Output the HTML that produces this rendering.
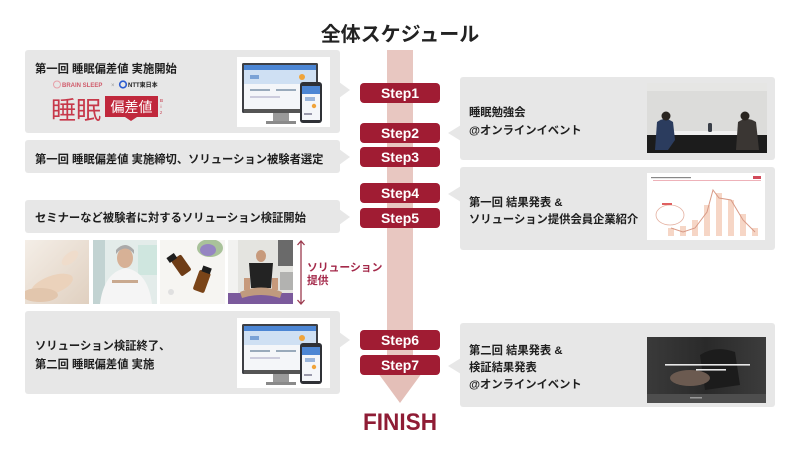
<!DOCTYPE html>
<html><head><meta charset="utf-8"><style>
html,body{margin:0;padding:0;background:#fff;}
svg{display:block;}
text{font-family:"Liberation Sans","Noto Sans CJK JP",sans-serif;}
.t{font-size:11.3px;font-weight:bold;fill:#1e1e1e;}
.st{font-size:14px;font-weight:bold;fill:#fff;}
</style></head><body>
<svg width="800" height="451" viewBox="0 0 800 451" xmlns="http://www.w3.org/2000/svg">
<defs>
<clipPath id="c1"><rect x="25" y="240" width="64" height="64"/></clipPath>
<clipPath id="c2"><rect x="93" y="240" width="64" height="64"/></clipPath>
<clipPath id="c3"><rect x="160" y="240" width="65" height="64"/></clipPath>
<clipPath id="c4"><rect x="228" y="240" width="65" height="64"/></clipPath>
<clipPath id="c5"><rect x="647" y="83" width="120" height="70"/></clipPath>
<clipPath id="c6"><rect x="647" y="337" width="119" height="66"/></clipPath>
<linearGradient id="g1" x1="0" y1="0" x2="1" y2="1"><stop offset="0" stop-color="#f4eee7"/><stop offset="1" stop-color="#e0d0c0"/></linearGradient>
<linearGradient id="g6" x1="0" y1="0" x2="1" y2="0"><stop offset="0" stop-color="#3a3a3a"/><stop offset="0.5" stop-color="#2a2a2a"/><stop offset="1" stop-color="#3c3c3c"/></linearGradient>
</defs>
<rect width="800" height="451" fill="#fff"/>

<!-- title -->
<text x="400" y="41" text-anchor="middle" font-size="20" font-weight="bold" fill="#222">全体スケジュール</text>

<!-- central arrow -->
<rect x="387" y="50" width="26" height="325" fill="#e8c7c1"/>
<polygon points="378,373 422,373 400,403" fill="#e4bfb8"/>

<!-- gray boxes -->
<g fill="#e7e7e7">
<rect x="25" y="50" width="315" height="83" rx="3"/>
<polygon points="339,82 350,90 339,98"/>
<rect x="25" y="140" width="315" height="33" rx="3"/>
<polygon points="339,149 350,157 339,165"/>
<rect x="25" y="200" width="315" height="33" rx="3"/>
<polygon points="339,209 350,217 339,225"/>
<rect x="25" y="311" width="315" height="83" rx="3"/>
<polygon points="339,332 350,340 339,348"/>
<rect x="460" y="77" width="315" height="83" rx="3"/>
<polygon points="461,125 448,133 461,141"/>
<rect x="460" y="167" width="315" height="83" rx="3"/>
<polygon points="461,186 448,194 461,202"/>
<rect x="460" y="323" width="315" height="84" rx="3"/>
<polygon points="461,358 448,366 461,374"/>
</g>

<!-- steps -->
<g fill="#a01c33">
<rect x="360" y="83" width="80" height="20" rx="4"/>
<rect x="360" y="123" width="80" height="20" rx="4"/>
<rect x="360" y="147" width="80" height="20" rx="4"/>
<rect x="360" y="183" width="80" height="20" rx="4"/>
<rect x="360" y="208" width="80" height="20" rx="4"/>
<rect x="360" y="330" width="80" height="20" rx="4"/>
<rect x="360" y="355" width="80" height="20" rx="4"/>
</g>
<g text-anchor="middle">
<text class="st" x="400" y="98">Step1</text>
<text class="st" x="400" y="138">Step2</text>
<text class="st" x="400" y="162">Step3</text>
<text class="st" x="400" y="198">Step4</text>
<text class="st" x="400" y="223">Step5</text>
<text class="st" x="400" y="345">Step6</text>
<text class="st" x="400" y="370">Step7</text>
</g>

<text x="400" y="430" text-anchor="middle" font-size="24" font-weight="bold" fill="#8f1c35" textLength="74" lengthAdjust="spacingAndGlyphs">FINISH</text>

<!-- left texts -->
<text class="t" x="35" y="72.5" font-size="11.6">第一回 睡眠偏差値 実施開始</text>
<text class="t" x="35" y="163">第一回 睡眠偏差値 実施締切、ソリューション被験者選定</text>
<text class="t" x="35" y="221.5">セミナーなど被験者に対するソリューション検証開始</text>
<text class="t" x="35" y="349.5">ソリューション検証終了、</text>
<text class="t" x="35" y="368">第二回 睡眠偏差値 実施</text>

<!-- right texts -->
<text class="t" x="469" y="116">睡眠勉強会</text>
<text class="t" x="469" y="134">@オンラインイベント</text>
<text class="t" x="469" y="206">第一回 結果発表 &amp;</text>
<text class="t" x="469" y="223">ソリューション提供会員企業紹介</text>
<text class="t" x="469" y="354">第二回 結果発表 &amp;</text>
<text class="t" x="469" y="371">検証結果発表</text>
<text class="t" x="469" y="388">@オンラインイベント</text>

<!-- logos in box1 -->
<circle cx="57" cy="84.5" r="3.5" fill="none" stroke="#e7a0a8" stroke-width="1"/>
<text x="62" y="87" font-size="6" font-weight="bold" fill="#d05a6a">BRAIN SLEEP</text>
<text x="111" y="87" font-size="6" fill="#999">×</text>
<circle cx="123" cy="84.5" r="3.3" fill="none" stroke="#2a5bd0" stroke-width="1.6"/>
<text x="128" y="87" font-size="6" font-weight="bold" fill="#222">NTT東日本</text>
<text x="51" y="119" font-size="25" fill="#c7384a">睡眠</text>
<rect x="105" y="96" width="53" height="21" fill="#c0283c"/>
<polygon points="125,117 131,121 137,117" fill="#c0283c"/>
<text x="131.5" y="112" text-anchor="middle" font-size="14" fill="#fff">偏差値</text>
<text x="160" y="102" font-size="4.5" fill="#c0283c">B</text>
<text x="160.5" y="108" font-size="4.5" fill="#c0283c">i</text>
<text x="160" y="114" font-size="4.5" fill="#c0283c">z</text>

<!-- screen mockup 1 -->
<g id="mock">
<rect x="237" y="57" width="93" height="70" fill="#fff"/>
<rect x="242" y="63" width="76" height="50" rx="1.5" fill="#3d3f44"/>
<rect x="244" y="65" width="72" height="44" fill="#f4f6f9"/>
<rect x="244" y="65" width="72" height="5" fill="#4c86d4"/>
<rect x="244" y="70" width="72" height="14" fill="#cfe0f3"/>
<rect x="250" y="75" width="9" height="4" fill="#7aa2d6"/>
<circle cx="302" cy="77" r="3" fill="#f0a43a"/>
<rect x="250" y="89" width="20" height="2" fill="#9ab"/>
<rect x="276" y="89" width="20" height="2" fill="#9ab"/>
<rect x="250" y="96" width="30" height="2" fill="#ccd"/>
<rect x="244" y="109" width="72" height="4" fill="#555"/>
<rect x="273" y="113" width="16" height="8" fill="#9a9a9a"/>
<rect x="266" y="121" width="30" height="3" fill="#8a8a8a"/>
<rect x="300" y="82" width="22" height="41" rx="3" fill="#2f3136"/>
<rect x="302" y="86" width="18" height="34" fill="#f4f6f9"/>
<rect x="302" y="86" width="18" height="8" fill="#4c86d4"/>
<rect x="305" y="97" width="10" height="4" fill="#9bb6dc"/>
<circle cx="314" cy="106" r="2.2" fill="#f0a43a"/>
<rect x="304" y="113" width="8" height="2" fill="#99a"/>
</g>
<use href="#mock" transform="translate(0,261)"/>

<!-- photos row -->
<g clip-path="url(#c1)">
<rect x="25" y="240" width="64" height="64" fill="url(#g1)"/>
<ellipse cx="52" cy="285" rx="22" ry="9" fill="#ebd2bb" transform="rotate(-20 52 285)"/>
<ellipse cx="70" cy="258" rx="10" ry="5" fill="#efdccb" transform="rotate(-40 70 258)"/>
<ellipse cx="40" cy="295" rx="18" ry="7" fill="#e2c6ad"/>
</g>
<g clip-path="url(#c2)">
<rect x="93" y="240" width="64" height="64" fill="#e3ecea"/>
<rect x="93" y="240" width="12" height="64" fill="#c2d3d2"/>
<rect x="138" y="245" width="19" height="30" fill="#cfe6df"/>
<path d="M100,304 Q104,272 126,268 Q148,272 152,304 Z" fill="#f5f5f5"/>
<ellipse cx="125" cy="258" rx="8" ry="10" fill="#d7b196"/>
<path d="M116,254 Q125,243 134,254 L134,250 Q125,240 116,250 Z" fill="#aaa"/>
<rect x="112" y="280" width="26" height="3" fill="#c9a98f"/>
</g>
<g clip-path="url(#c3)">
<rect x="160" y="240" width="65" height="64" fill="#f6f5f2"/>
<ellipse cx="210" cy="248" rx="13" ry="9" fill="#a9c29a"/>
<ellipse cx="208" cy="250" rx="8" ry="6" fill="#9585c2"/>
<rect x="175" y="256" width="12" height="19" rx="2" fill="#6e3c16" transform="rotate(-35 181 265)"/>
<rect x="173" y="251" width="9" height="6" fill="#1e1e1e" transform="rotate(-35 181 265)"/>
<rect x="196" y="271" width="12" height="21" rx="2" fill="#7a4418" transform="rotate(20 202 281)"/>
<rect x="198" y="266" width="9" height="6" fill="#1e1e1e" transform="rotate(20 202 281)"/>
<circle cx="171" cy="292" r="3" fill="#e0e0e0"/>
</g>
<g clip-path="url(#c4)">
<rect x="228" y="240" width="65" height="64" fill="#e4e4e0"/>
<rect x="228" y="240" width="10" height="64" fill="#f2f2f0"/>
<rect x="278" y="240" width="15" height="26" fill="#6a6a6a"/>
<rect x="280" y="272" width="13" height="18" fill="#b2b2b0"/>
<rect x="228" y="293" width="65" height="11" fill="#7b5a9c"/>
<path d="M249,263 L273,263 L271,288 L251,288 Z" fill="#232323"/>
<ellipse cx="261" cy="256" rx="5" ry="6" fill="#c79a7c"/>
<path d="M240,292 Q261,283 282,292 L280,298 Q261,292 242,298 Z" fill="#c09a7e"/>
<rect x="244" y="278" width="6" height="12" fill="#c79a7c"/>
<rect x="272" y="278" width="6" height="12" fill="#c79a7c"/>
</g>

<!-- double arrow & label -->
<line x1="301" y1="242" x2="301" y2="303" stroke="#9b3a4e" stroke-width="1.3"/>
<polyline points="297.5,245 301,241 304.5,245" fill="none" stroke="#9b3a4e" stroke-width="1.3"/>
<polyline points="297.5,300 301,304 304.5,300" fill="none" stroke="#9b3a4e" stroke-width="1.3"/>
<text x="307" y="271" font-size="10.8" font-weight="bold" fill="#a4294a">ソリューション</text>
<text x="307" y="284" font-size="10.8" font-weight="bold" fill="#a4294a">提供</text>

<!-- R1 photo -->
<g clip-path="url(#c5)">
<rect x="647" y="83" width="120" height="70" fill="#dcdcda"/>
<rect x="647" y="83" width="120" height="8" fill="#e6e6e4"/>
<rect x="647" y="135" width="120" height="18" fill="#1c1c1c"/>
<rect x="672" y="131" width="80" height="4" fill="#f0f0f0"/>
<path d="M655,150 L657,122 Q665,116 673,122 L675,140 L668,150 Z" fill="#2b3c5e"/>
<circle cx="666" cy="116" r="4.5" fill="#2a2520"/>
<path d="M736,150 L738,122 Q747,116 756,122 L759,150 Z" fill="#3a3633"/>
<circle cx="745" cy="116" r="4.5" fill="#2a2520"/>
<rect x="708" y="123" width="4" height="9" rx="1.5" fill="#3a3f48"/>
</g>

<!-- chart -->
<rect x="647" y="173" width="118" height="67" fill="#fff"/>
<rect x="651" y="177" width="40" height="1.2" fill="#888"/>
<rect x="653" y="180" width="108" height="0.8" fill="#e9a0a8"/>
<rect x="753" y="176" width="8" height="3" fill="#d24a5a"/>
<g fill="#f6d6c6">
<rect x="668" y="228" width="6" height="8"/>
<rect x="680" y="226" width="6" height="10"/>
<rect x="692" y="220" width="6" height="16"/>
<rect x="704" y="205" width="6" height="31"/>
<rect x="716" y="193" width="6" height="43"/>
<rect x="728" y="200" width="6" height="36"/>
<rect x="740" y="214" width="6" height="22"/>
<rect x="752" y="228" width="6" height="8"/>
</g>
<polyline points="671,228 683,232 695,228 707,212 713,190 719,198 731,200 743,220 755,232" fill="none" stroke="#d99a86" stroke-width="1"/>
<ellipse cx="670" cy="215" rx="14" ry="10" fill="none" stroke="#e4b0a0" stroke-width="0.8"/>
<rect x="662" y="203" width="10" height="2" fill="#e06060"/>

<!-- dark image -->
<g clip-path="url(#c6)">
<rect x="647" y="337" width="119" height="66" fill="url(#g6)"/>
<path d="M700,355 Q715,345 735,352 L740,385 L705,390 Z" fill="#1c1c1c"/>
<ellipse cx="690" cy="378" rx="20" ry="8" fill="#6b5a50"/>
<rect x="647" y="394" width="119" height="9" fill="#4e4e4e"/>
<rect x="665" y="364" width="85" height="1.6" fill="#e8e8e8"/>
<rect x="696" y="369" width="30" height="1.6" fill="#e8e8e8"/>
<rect x="690" y="397" width="12" height="1.5" fill="#999"/>
</g>
</svg>
</body></html>
